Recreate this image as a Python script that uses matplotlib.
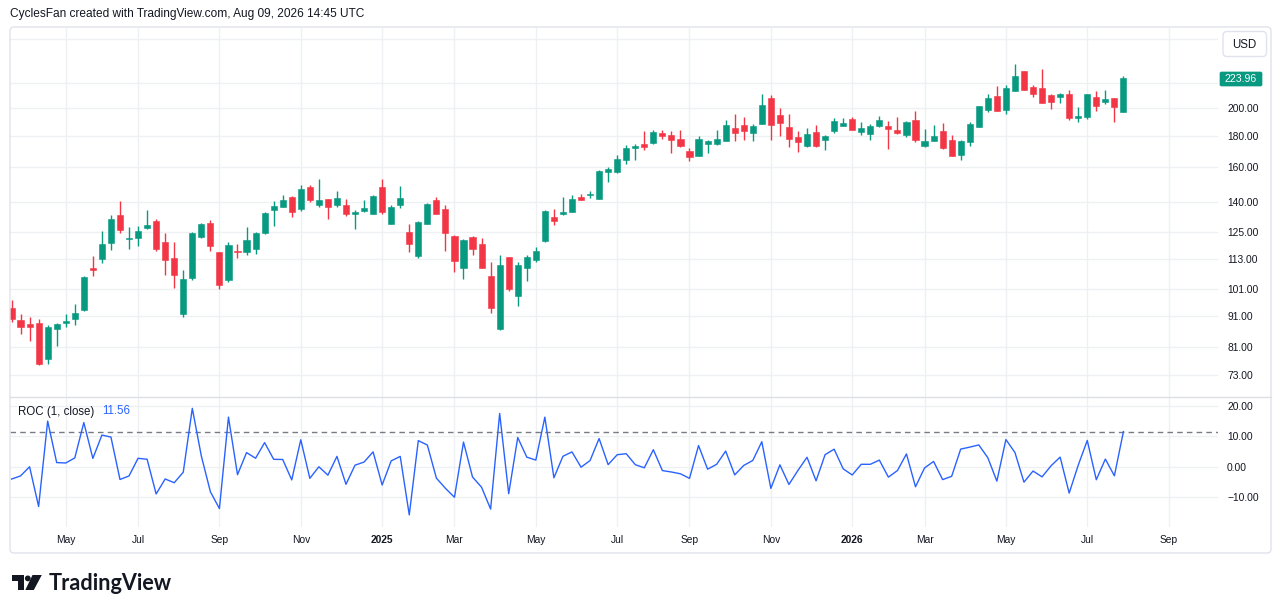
import numpy as np
import pandas as pd
import matplotlib
matplotlib.use('Agg')
import matplotlib.pyplot as plt
from matplotlib.patches import FancyBboxPatch, Polygon, Circle

plt.rcParams['font.family'] = ['Liberation Sans', 'DejaVu Sans']

# weekly bars, first bar is the week of 2024-03-25
first_week = '2024-03-25'
close_before = 93.8   # close of the week before the first visible bar

opens = [93.8, 89.8, 88.5, 88.8, 77.6, 86.9, 88.9, 90.0, 93.1, 109.2,
         113.0, 119.9, 133.4, 122.0, 122.3, 127.0, 130.4, 120.4, 113.3, 91.7,
         105.2, 122.8, 129.4, 116.0, 104.3, 116.5, 116.1, 117.6, 124.7, 135.9,
         137.6, 143.0, 136.4, 148.6, 138.9, 141.7, 138.7, 138.9, 134.1, 135.5,
         134.2, 148.6, 129.2, 138.9, 125.3, 114.2, 129.2, 141.2, 136.4, 123.5,
         109.3, 122.8, 119.8, 106.2, 86.9, 113.8, 98.2, 109.3, 112.5, 120.9,
         132.4, 133.8, 135.1, 143.0, 143.9, 141.9, 157.1, 157.0, 164.2, 172.3,
         174.5, 175.1, 182.3, 180.7, 177.7, 170.3, 166.9, 174.8, 174.8, 176.8,
         185.6, 187.3, 182.3, 188.6, 207.9, 194.8, 185.9, 179.4, 173.1, 182.6,
         177.2, 183.3, 187.0, 192.0, 182.6, 181.5, 186.9, 187.0, 184.0, 180.7,
         191.1, 173.1, 176.7, 183.1, 177.2, 167.5, 176.0, 186.3, 198.5, 209.4,
         198.5, 213.3, 230.1, 216.9, 216.1, 210.0, 208.3, 210.8, 192.8, 193.2,
         208.3, 204.8, 207.4, 197.2]
highs = [96.7, 92.0, 90.8, 90.2, 88.0, 88.8, 92.0, 95.5, 106.0, 114.2,
         125.6, 133.7, 140.7, 127.7, 128.0, 135.9, 131.3, 124.8, 120.4, 108.6,
         125.0, 129.6, 130.9, 116.1, 120.6, 119.6, 127.5, 125.1, 135.1, 140.7,
         144.1, 143.2, 149.4, 149.4, 153.0, 141.9, 146.0, 141.7, 136.1, 141.5,
         143.9, 152.8, 138.9, 148.8, 129.2, 130.4, 139.9, 142.9, 138.9, 123.7,
         122.0, 123.1, 122.3, 111.8, 115.0, 114.0, 111.6, 115.0, 118.1, 135.9,
         136.8, 142.9, 144.1, 144.3, 146.1, 158.1, 160.2, 167.3, 174.0, 174.5,
         183.3, 184.0, 184.0, 183.1, 184.0, 172.3, 180.0, 177.2, 184.0, 191.1,
         195.5, 193.1, 188.3, 211.3, 210.4, 199.8, 195.5, 183.3, 185.6, 187.3,
         180.4, 192.3, 192.3, 193.2, 190.0, 188.6, 194.0, 190.4, 193.5, 190.4,
         197.7, 184.9, 187.3, 189.1, 180.4, 177.0, 190.0, 201.8, 210.8, 217.1,
         217.9, 236.4, 230.3, 218.4, 232.0, 211.3, 211.8, 214.1, 200.5, 211.3,
         213.3, 214.1, 207.9, 225.5]
lows = [89.1, 85.3, 82.9, 75.7, 76.1, 81.3, 87.6, 88.0, 92.8, 106.2,
        111.5, 116.8, 124.8, 117.6, 118.6, 126.5, 116.4, 106.3, 101.3, 90.8,
        104.5, 122.3, 116.4, 100.8, 103.7, 113.3, 114.9, 115.3, 124.5, 128.3,
        137.4, 132.3, 135.5, 140.4, 137.7, 131.3, 137.6, 133.0, 126.4, 134.8,
        134.0, 133.9, 129.0, 136.9, 116.1, 113.3, 128.9, 134.0, 116.4, 107.6,
        104.8, 114.7, 109.1, 92.3, 86.4, 100.2, 94.7, 104.1, 111.6, 120.4,
        128.7, 133.6, 135.0, 141.2, 142.6, 141.7, 151.4, 156.5, 162.1, 164.2,
        170.6, 174.8, 178.1, 168.9, 172.8, 163.9, 166.7, 168.9, 174.0, 176.6,
        176.8, 177.2, 176.5, 188.4, 177.0, 180.3, 172.9, 169.5, 172.9, 172.9,
        170.9, 182.3, 186.6, 183.8, 180.4, 177.2, 186.3, 171.2, 181.5, 179.0,
        176.0, 172.9, 176.5, 171.2, 166.7, 164.5, 173.1, 186.1, 197.2, 197.5,
        195.3, 213.1, 213.9, 208.6, 203.9, 199.3, 203.6, 191.5, 190.0, 191.7,
        197.7, 202.8, 190.0, 197.0]
closes = [90.0, 87.3, 87.3, 75.9, 87.3, 88.5, 89.6, 92.2, 105.6, 108.5,
          119.8, 131.5, 126.0, 122.2, 125.6, 128.7, 117.2, 112.5, 106.6, 104.7,
          124.8, 129.2, 118.6, 102.3, 119.0, 115.9, 121.3, 124.7, 134.6, 137.9,
          141.2, 135.1, 147.1, 141.5, 141.5, 137.6, 142.3, 134.1, 134.8, 136.9,
          143.6, 135.0, 137.6, 142.3, 119.8, 130.1, 139.4, 134.2, 124.7, 112.2,
          121.3, 117.2, 109.3, 94.1, 110.6, 100.8, 110.5, 114.0, 116.5, 135.5,
          130.6, 135.1, 141.7, 141.5, 144.4, 157.8, 158.9, 165.2, 172.3, 173.5,
          172.9, 182.6, 180.3, 177.2, 173.1, 166.5, 178.1, 176.7, 178.1, 187.3,
          182.3, 183.1, 186.9, 202.3, 187.9, 189.1, 178.1, 176.0, 181.5, 173.1,
          180.0, 190.4, 189.1, 184.0, 185.5, 187.0, 191.1, 184.6, 182.3, 190.0,
          177.5, 176.8, 179.9, 172.3, 166.9, 176.6, 188.0, 201.5, 207.5, 197.7,
          215.4, 225.5, 214.1, 211.1, 204.1, 204.8, 211.3, 193.0, 194.0, 210.8,
          201.8, 206.9, 200.75, 223.96]

# price grid levels; the two top ones sit under the USD button / last price tag
price_ticks = [73, 81, 91, 101, 113, 125, 140, 160, 180, 200, 220, 260]
price_hidden = [220, 260]
roc_ticks = [-10, 0, 10, 20]

UP = '#089981'
DOWN = '#F23645'
BLUE = '#2962FF'
GRID = '#EEF0F4'
TXT = '#131722'
BORDER = '#E0E3EB'

W, H = 1281, 613
fig = plt.figure(figsize=(W / 100, H / 100), dpi=100)


def box(l, t, r, b):
    return [l / W, 1 - b / H, (r - l) / W, (b - t) / H]


o = np.array(opens)
hi = np.array(highs)
lo = np.array(lows)
c = np.array(closes)
n = len(c)
idx = np.arange(n)
roc = 100 * (c / np.r_[close_before, c[:-1]] - 1)

# month ticks (odd months, year label in January)
dates = pd.date_range(first_week, periods=n + 12, freq='W-MON')
tick_pos, tick_lab, tick_year = [], [], []
for i in range(1, len(dates)):
    if dates[i].month != dates[i - 1].month and dates[i].month % 2 == 1:
        tick_pos.append(i)
        if dates[i].month == 1:
            tick_lab.append(str(dates[i].year))
            tick_year.append(True)
        else:
            tick_lab.append(dates[i].strftime('%b'))
            tick_year.append(False)

xstep = 9.04
x0 = 11.5
xlim = ((10 - x0) / xstep, (1218 - x0) / xstep)

ax = fig.add_axes(box(10, 28, 1218, 396.5))
ax2 = fig.add_axes(box(10, 396.5, 1218, 527))

# --- price pane
cols = [UP if cc >= oo else DOWN for oo, cc in zip(o, c)]
ax.vlines(idx, lo, hi, colors=cols, lw=1, zorder=3)
ax.bar(idx, np.abs(c - o), bottom=np.minimum(o, c), width=0.68,
       color=cols, edgecolor=cols, lw=0.4, zorder=4)
ax.set_yscale('log')
ax.set_ylim(67.24, 270.7)
ax.set_xlim(*xlim)
ax.yaxis.tick_right()
ax.set_yticks(price_ticks)
ax.set_yticklabels(['' if v in price_hidden else f'{v:.2f}' for v in price_ticks])
ax.yaxis.set_minor_locator(matplotlib.ticker.NullLocator())
ax.set_xticks(tick_pos)
ax.set_xticklabels([])

# --- ROC pane
ax2.plot(idx, roc, color=BLUE, lw=1, zorder=3)
ax2.axhline(roc[-1], color='#787B86', lw=1, ls=(0, (4, 3)), zorder=2)
ax2.set_ylim(-19.8, 23.1)
ax2.set_xlim(*xlim)
ax2.yaxis.tick_right()
ax2.set_yticks(roc_ticks)
ax2.set_yticklabels([f'{v:.2f}'.replace('-', '\u2212') for v in roc_ticks])
ax2.set_xticks(tick_pos)
ax2.set_xticklabels([])
for p, lab, yr in zip(tick_pos, tick_lab, tick_year):
    ax2.text(p, -(540 - 527) / 130.5, lab, transform=ax2.get_xaxis_transform(),
             ha='center', va='center', fontsize=7.4, color=TXT,
             fontweight='bold' if yr else 'normal', clip_on=False)

for a in (ax, ax2):
    a.grid(True, color=GRID, lw=1, zorder=0)
    a.set_axisbelow(True)
    for s in a.spines.values():
        s.set_visible(False)
    a.tick_params(length=0, pad=6.5, labelsize=7.4, labelcolor=TXT)

# --- overlay: frame, labels, logo
ov = fig.add_axes([0, 0, 1, 1], zorder=10)
ov.set_xlim(0, W)
ov.set_ylim(H, 0)
ov.axis('off')
ov.patch.set_alpha(0)

ov.add_patch(FancyBboxPatch((10, 27), 1261, 526, boxstyle='round,pad=0,rounding_size=4',
                            fill=False, ec=BORDER, lw=1))
ov.plot([10, 1271], [396.5, 396.5], color='#DCDFE6', lw=1)

ov.text(10, 14.5, 'CyclesFan created with TradingView.com, Aug 09, 2026 14:45 UTC',
        fontsize=8.6, color=TXT, va='center', ha='left')

ov.add_patch(FancyBboxPatch((1223, 31.5), 43.5, 25, boxstyle='round,pad=0,rounding_size=4',
                            fc='white', ec=BORDER, lw=1))
ov.text(1244.7, 44.5, 'USD', fontsize=8.3, color=TXT, ha='center', va='center')

ov.add_patch(FancyBboxPatch((1220, 72), 42, 14, boxstyle='round,pad=0,rounding_size=1.5',
                            fc=UP, ec=UP, lw=0.5))
ov.text(1241, 79.3, f'{c[-1]:.2f}', fontsize=7.6, color='white', ha='center', va='center')

ov.text(18, 411.5, 'ROC (1, close)', fontsize=8.3, color=TXT, ha='left', va='center')
ov.text(102, 411.5, f'{roc[-1]:.2f}', fontsize=8.3, color=BLUE, ha='left', va='center')

# TradingView logo
ov.add_patch(Polygon([(12, 575), (24, 575), (24, 590), (18, 590), (18, 581), (12, 581)],
                     closed=True, fc=TXT, ec='none'))
ov.add_patch(Circle((27.8, 578.4), 2.9, fc=TXT, ec='none'))
ov.add_patch(Polygon([(32.5, 575), (41.8, 575), (33.8, 590), (25.3, 590)],
                     closed=True, fc=TXT, ec='none'))
ov.text(48.5, 590, 'TradingView', fontsize=15.6, fontweight='bold', color=TXT,
        family=['Lato', 'DejaVu Sans'], ha='left', va='baseline')

fig.savefig('out.png', dpi=100, facecolor='white')
